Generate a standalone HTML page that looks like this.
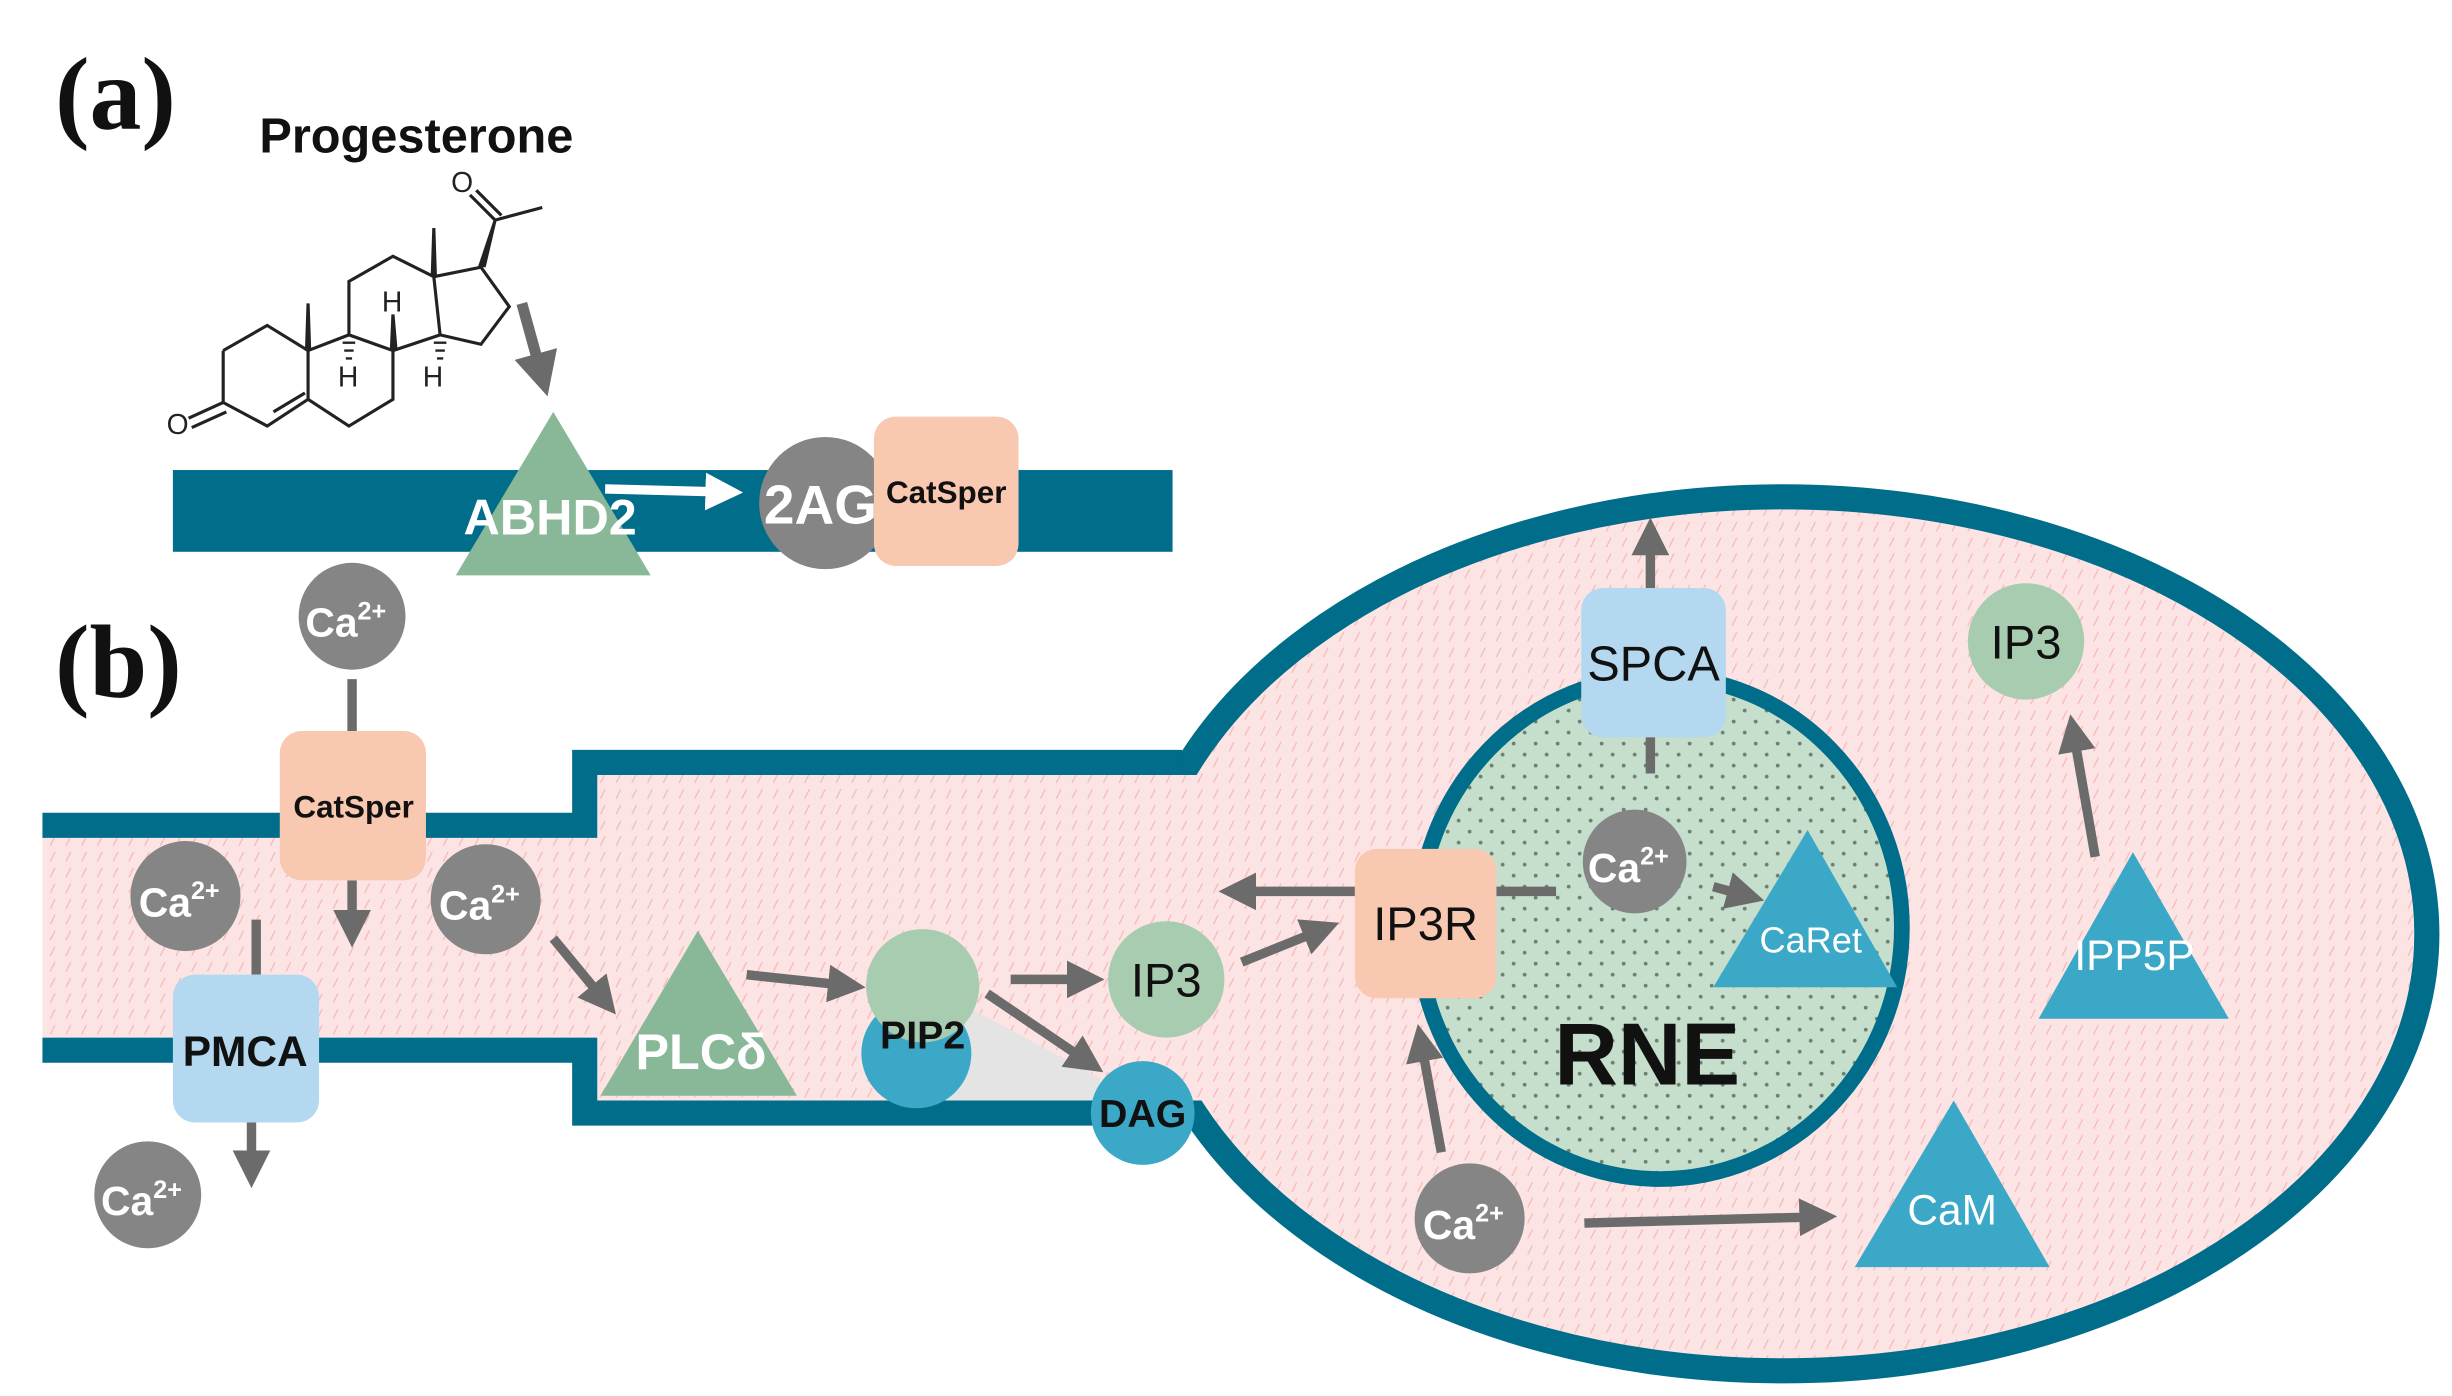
<!DOCTYPE html>
<html><head><meta charset="utf-8"><style>
html,body{margin:0;padding:0;background:#fff;}
svg{display:block;}
text{font-family:"Liberation Sans",sans-serif;}
</style></head><body>
<svg width="2452" height="1396" viewBox="0 0 1560 888" preserveAspectRatio="none" xmlns="http://www.w3.org/2000/svg">
<defs>
<pattern id="hatch" width="10" height="10" patternUnits="userSpaceOnUse">
<rect width="10" height="10" fill="#fde4e4"/>
<path d="M2,8 L5,2" stroke="#f5b9b9" stroke-width="0.8"/>
</pattern>
<pattern id="dots" width="14" height="14" patternUnits="userSpaceOnUse">
<rect width="14" height="14" fill="#c6dfcc"/>
<circle cx="4" cy="4" r="1.2" fill="#6a7f70"/>
<circle cx="11" cy="11" r="1.2" fill="#6a7f70"/>
</pattern>
<marker id="ah" markerWidth="4" markerHeight="4" refX="2.2" refY="2" orient="auto" markerUnits="strokeWidth">
<path d="M0,0 L4,2 L0,4 Z" fill="#6b6b6b"/>
</marker>
<marker id="ahw" markerWidth="4" markerHeight="4" refX="2.2" refY="2" orient="auto" markerUnits="strokeWidth">
<path d="M0,0 L4,2 L0,4 Z" fill="#fff"/>
</marker>
</defs>

<!-- (a) -->
<text x="35" y="82" style="font-family:'Liberation Serif',serif;font-weight:bold" font-size="66" fill="#111">(a)</text>
<text x="165" y="97" font-size="31" font-weight="bold" fill="#111">Progesterone</text>
<g stroke="#222" stroke-width="2" fill="none">
<polyline points="142,223 170,207 196,223 196,254 170,271 142,256 142,223"/>
<polyline points="196,223 222,213 250,223 250,254 222,271 196,254"/>
<line x1="174" y1="262" x2="194" y2="250"/>
<polyline points="222,213 222,179 250,163 276,176 280,213 250,223"/>
<polyline points="276,176 306,170 324,195 306,219 280,213"/>
<line x1="142" y1="256" x2="120" y2="266"/>
<line x1="144" y1="262" x2="122" y2="272"/>
<line x1="315" y1="140" x2="345" y2="132"/>
<line x1="315" y1="140" x2="299" y2="124"/>
<line x1="319" y1="137" x2="303" y2="121"/>
</g>
<polygon points="194,223 198,223 197,193 195,193" fill="#222"/>
<polygon points="274,176 278,176 277,145 275,145" fill="#222"/>
<polygon points="304,170 309,170 316,140 314,140" fill="#222"/>
<polygon points="248,223 253,223 251,200 249,200" fill="#222"/>
<g stroke="#222" stroke-width="1.5">
<line x1="218" y1="218" x2="226" y2="218"/><line x1="219" y1="223" x2="225" y2="223"/><line x1="220" y1="228" x2="224" y2="228"/>
<line x1="276" y1="218" x2="284" y2="218"/><line x1="277" y1="223" x2="283" y2="223"/><line x1="278" y1="228" x2="282" y2="228"/>
</g>
<g font-size="18" fill="#222">
<text x="243" y="198">H</text><text x="215" y="246">H</text><text x="269" y="246">H</text>
<text x="106" y="276">O</text><text x="287" y="122">O</text>
</g>
<line x1="332" y1="193" x2="345" y2="240" stroke="#6b6b6b" stroke-width="7" marker-end="url(#ah)"/>

<rect x="110" y="299" width="636" height="52" fill="#006d8a"/>
<polygon points="352,262 290,366 414,366" fill="#88b898"/>
<text x="350" y="340" font-size="32" font-weight="bold" fill="#fff" text-anchor="middle">ABHD2</text>
<line x1="385" y1="311" x2="462" y2="313" stroke="#fff" stroke-width="6" marker-end="url(#ahw)"/>
<circle cx="525" cy="320" r="42" fill="#858585"/>
<rect x="556" y="265" width="92" height="95" rx="14" fill="#f8c8b0"/>
<text x="522" y="333" font-size="35" font-weight="bold" fill="#fff" text-anchor="middle">2AG</text>
<text x="602" y="320" font-size="20" font-weight="bold" fill="#111" text-anchor="middle">CatSper</text>

<!-- (b) -->
<text x="35" y="443" style="font-family:'Liberation Serif',serif;font-weight:bold" font-size="66" fill="#111">(b)</text>

<!-- cell -->
<ellipse cx="1134" cy="594" rx="410" ry="278" fill="url(#hatch)" stroke="#006d8a" stroke-width="16"/>
<polygon points="27,533 380,533 380,493 790,493 790,700 380,700 380,660 27,660" fill="url(#hatch)"/>
<polyline points="27,525 372,525 372,485 752,485" fill="none" stroke="#006d8a" stroke-width="16"/>
<polyline points="27,668 372,668 372,708 750,708" fill="none" stroke="#006d8a" stroke-width="16"/>
<polygon points="600,632 700,686 700,700 598,700" fill="#e4e4e4"/>

<!-- RNE -->
<ellipse cx="1056" cy="590" rx="154" ry="160" fill="url(#dots)" stroke="#006d8a" stroke-width="10"/>
<text x="1048" y="690" font-size="56" font-weight="bold" fill="#111" text-anchor="middle">RNE</text>

<!-- arrows -->
<g stroke="#6b6b6b" stroke-width="6" fill="none">
<line x1="224" y1="432" x2="224" y2="466"/>
<line x1="224" y1="560" x2="224" y2="592" marker-end="url(#ah)"/>
<line x1="163" y1="585" x2="163" y2="620"/>
<line x1="160" y1="714" x2="160" y2="745" marker-end="url(#ah)"/>
<line x1="352" y1="597" x2="385" y2="637" marker-end="url(#ah)"/>
<line x1="475" y1="620" x2="540" y2="627" marker-end="url(#ah)"/>
<line x1="643" y1="623" x2="692" y2="623" marker-end="url(#ah)"/>
<line x1="628" y1="632" x2="693" y2="676" marker-end="url(#ah)"/>
<line x1="790" y1="612" x2="842" y2="591" marker-end="url(#ah)"/>
<line x1="862" y1="567" x2="786" y2="567" marker-end="url(#ah)"/>
<line x1="952" y1="567" x2="990" y2="567"/>
<line x1="1090" y1="564" x2="1112" y2="570" marker-end="url(#ah)"/>
<line x1="1050" y1="374" x2="1050" y2="340" marker-end="url(#ah)"/>
<line x1="1050" y1="469" x2="1050" y2="492"/>
<line x1="1333" y1="545" x2="1319" y2="465" marker-end="url(#ah)"/>
<line x1="917" y1="733" x2="904" y2="662" marker-end="url(#ah)"/>
<line x1="1008" y1="778" x2="1158" y2="774" marker-end="url(#ah)"/>
</g>

<!-- nodes -->
<g font-weight="bold" text-anchor="middle">
<rect x="178" y="465" width="93" height="95" rx="14" fill="#f8c8b0"/>
<text x="225" y="520" font-size="20" fill="#111">CatSper</text>
<rect x="110" y="620" width="93" height="94" rx="14" fill="#b4d8f0"/>
<text x="156" y="678" font-size="27" fill="#111">PMCA</text>
</g>
<g fill="#858585">
<circle cx="224" cy="392" r="34"/><circle cx="118" cy="570" r="35"/><circle cx="309" cy="572" r="35"/>
<circle cx="94" cy="760" r="34"/><circle cx="1040" cy="548" r="33"/><circle cx="935" cy="775" r="35"/>
</g>
<g fill="#fff" font-size="26" font-weight="bold" text-anchor="middle">
<text x="220" y="405">Ca<tspan font-size="16" dy="-11">2+</tspan></text>
<text x="114" y="583">Ca<tspan font-size="16" dy="-11">2+</tspan></text>
<text x="305" y="585">Ca<tspan font-size="16" dy="-11">2+</tspan></text>
<text x="90" y="773">Ca<tspan font-size="16" dy="-11">2+</tspan></text>
<text x="1036" y="561">Ca<tspan font-size="16" dy="-11">2+</tspan></text>
<text x="931" y="788">Ca<tspan font-size="16" dy="-11">2+</tspan></text>
</g>

<polygon points="444,592 382,697 507,697" fill="#88b898"/>
<text x="446" y="680" font-size="32" font-weight="bold" fill="#fff" text-anchor="middle">PLCδ</text>

<circle cx="583" cy="670" r="35" fill="#3aa8c6"/>
<circle cx="587" cy="627" r="36" fill="#a8ccb0"/>
<text x="587" y="667" font-size="25" font-weight="bold" fill="#111" text-anchor="middle">PIP2</text>

<circle cx="742" cy="623" r="37" fill="#a8ccb0"/>
<text x="742" y="634" font-size="30" fill="#111" text-anchor="middle">IP3</text>
<circle cx="727" cy="708" r="33" fill="#3aa8c6"/>
<text x="727" y="717" font-size="25" font-weight="bold" fill="#111" text-anchor="middle">DAG</text>

<rect x="862" y="540" width="90" height="95" rx="14" fill="#f8c8b0"/>
<text x="907" y="598" font-size="30" fill="#111" text-anchor="middle">IP3R</text>

<polygon points="1150,528 1090,628 1207,628" fill="#3aa8c6"/>
<text x="1152" y="606" font-size="23" fill="#fff" text-anchor="middle">CaRet</text>

<rect x="1006" y="374" width="92" height="95" rx="14" fill="#b4d8f0"/>
<text x="1052" y="433" font-size="31" fill="#111" text-anchor="middle">SPCA</text>

<circle cx="1289" cy="408" r="37" fill="#a8ccb0"/>
<text x="1289" y="419" font-size="30" fill="#111" text-anchor="middle">IP3</text>

<polygon points="1357,542 1297,648 1418,648" fill="#3aa8c6"/>
<text x="1358" y="617" font-size="27" fill="#fff" text-anchor="middle">IPP5P</text>

<polygon points="1243,700 1180,806 1304,806" fill="#3aa8c6"/>
<text x="1242" y="779" font-size="27" fill="#fff" text-anchor="middle">CaM</text>
</svg>
</body></html>
